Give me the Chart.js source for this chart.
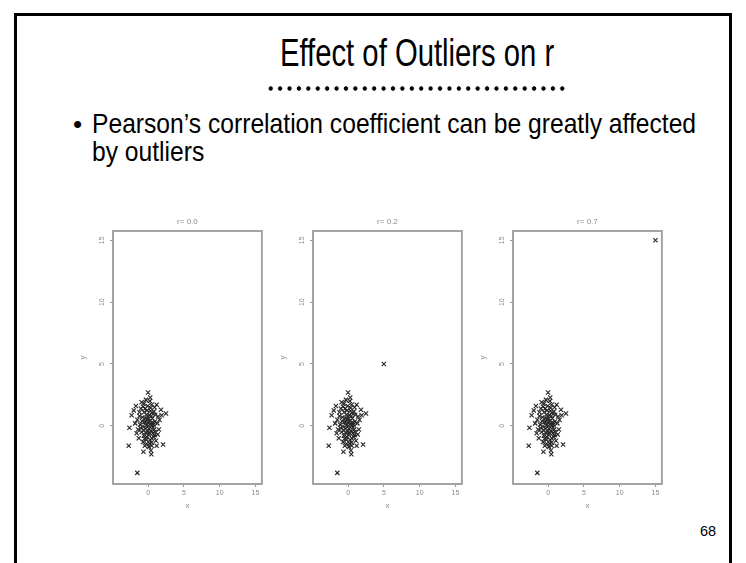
<!DOCTYPE html>
<html>
<head>
<meta charset="utf-8">
<script src="https://cdn.jsdelivr.net/npm/chart.js@4.4.0/dist/chart.umd.min.js"></script>
<style>
  body { margin:0; width:746px; height:563px; background:#fff; position:relative; overflow:hidden;
         font-family:"Liberation Sans",Arial,sans-serif; color:#000; }
  #frame { position:absolute; left:14px; top:13px; width:712px; height:600px; border:3px solid #000; border-bottom:none; }
  #title { position:absolute; left:0; width:834px; top:34px; text-align:center; font-size:38px; line-height:38px; white-space:nowrap; }
  #title span { display:inline-block; transform:scaleX(0.77); transform-origin:center; }
  #dots { position:absolute; left:266px; top:86px; width:301px; height:5px;
          background-image:radial-gradient(circle at center, #000 1.9px, rgba(0,0,0,0) 2.5px);
          background-size:9.42px 5px; background-repeat:repeat-x; }
  #bullet { position:absolute; left:73px; top:110px; font-size:26px; line-height:28px; }
  .txt { position:absolute; left:92px; font-size:28px; line-height:28px; white-space:nowrap;
         transform:scaleX(0.88); transform-origin:left center; }
  #page { position:absolute; left:690px; width:36px; text-align:center; top:524px; font-size:14.5px; line-height:15px; }
  canvas { position:absolute; top:205px; }
</style>
</head>
<body>
<div id="frame"></div>
<div id="title"><span>Effect of Outliers on r</span></div>
<div id="dots"></div>
<div id="bullet">•</div>
<div class="txt" style="top:110px">Pearson’s correlation coefficient can be greatly affected</div>
<div class="txt" style="top:138px">by outliers</div>
<canvas id="plot0" width="192" height="309" style="left:75px"></canvas>
<canvas id="plot1" width="192" height="309" style="left:275px"></canvas>
<canvas id="plot2" width="192" height="309" style="left:475px"></canvas>
<div id="page">68</div>
<script>
// shared cloud of points (same in all three panels)
var clusterX = [0.0, 2.1, -2.7, -1.5, -0.65, 0.4, 0.45, 0.5, 2.5, 1.9, 1.2, -1.7, -2.0, -2.3, -2.6, 1.5,
    1.35, -0.55, 0.5, -0.9, 0.9, -1.2, 0.3, -0.4, 1.0, -1.5, -0.8, 0.6, -0.2, 0.2, -0.5, 1.3, -1.1, 0.0,
    0.7, -0.3, 0.4, -0.9, 1.0, -1.6, 0.1, -0.6, 0.8, -0.2, 0.5, -1.3, 1.1, -0.7, 0.2, -0.4, 0.35, -0.1,
    0.15, -0.75, 0.95, -1.2, 0.55, -0.05, 0.25, -0.35, 0.65, -1.0, 1.6, -0.15, 0.05, -0.55, 0.75, -1.8,
    0.45, -0.25, 0.1, -0.45, 1.2, 0.3, -0.3, 1.8, -1.4, 0.85,
    0.1, -0.3, 0.45, -0.6, 0.2, 0.6, -0.15, 0.35, -0.7, 0.8, -0.05, 0.3, -0.5, 0.9, -0.85, 0.15,
    -0.2, 0.5, 1.4, -1.0];
var clusterY = [2.7, -1.5, -1.6, -3.8, -2.1, -2.0, -2.3, -1.35, 1.0, 0.85, 1.7, 1.6, 1.25, 0.85, -0.15, -0.3,
    -0.7, 1.8, 1.7, 1.9, 1.5, 1.1, 1.2, 1.4, 0.9, 0.5, 0.7, 0.6, 0.9, 0.4, 0.3, 0.2, 0.1, 0.0,
    -0.1, -0.2, -0.4, -0.5, -0.5, -0.6, -0.7, -0.8, -0.9, -1.1, -1.0, -1.0, -1.2, -1.3, -1.4, 0.6, 0.15, 0.55,
    -0.25, -0.05, 0.35, 0.8, 1.05, 1.6, 2.0, -0.55, -0.6, -0.2, 0.5, -0.9, 0.25, 1.1, 0.1, 0.2,
    0.8, 0.05, -1.7, -1.6, -1.6, 2.3, 2.1, 1.3, -0.3, -0.3,
    0.6, 0.35, 0.05, -0.35, -0.55, 0.3, 1.25, 1.45, 1.55, 1.15, -0.45, -1.15, -1.05, -0.75, 0.4, 0.85,
    -1.45, -1.6, 0.75, 1.4];

// the extra point added in each panel
var outlierX = [null, 5, 15];
var outlierY = [null, 5, 15];

var plotTitles = ["r= 0.0", "r= 0.2", "r= 0.7"];
var xTicks = [0, 5, 10, 15];
var yTicks = [0, 5, 10, 15];

var framePlugin = {
    id: 'frame',
    beforeDatasetsDraw: function (chart) {
        var a = chart.chartArea, c = chart.ctx;
        c.save();
        c.strokeStyle = '#a3a3a3';
        c.lineWidth = 2;
        c.strokeRect(a.left, a.top, a.right - a.left, a.bottom - a.top);
        c.restore();
    }
};

var grey = '#8c8c8c';

plotTitles.forEach(function (t, i) {
    var pts = clusterX.map(function (x, k) { return {x: x, y: clusterY[k]}; });
    if (outlierX[i] !== null) {
        pts.push({x: outlierX[i], y: outlierY[i]});
    }

    var ctx = document.getElementById('plot' + i).getContext('2d');
    new Chart(ctx, {
        type: 'scatter',
        data: {
            datasets: [{
                data: pts,
                pointStyle: 'crossRot',
                pointRadius: 3,
                pointBorderColor: '#262626',
                pointBorderWidth: 1.1,
                pointBackgroundColor: 'transparent'
            }]
        },
        options: {
            responsive: false,
            animation: false,
            layout: {padding: {top: 0, right: 4, bottom: 0, left: 0}},
            plugins: {
                legend: {display: false},
                tooltip: {enabled: false},
                title: {
                    display: true, text: t, color: grey, fullSize: false,
                    font: {size: 8, weight: 'normal', family: 'Liberation Sans'},
                    padding: {top: 12, bottom: 4.4}
                }
            },
            scales: {
                x: {
                    type: 'linear', min: -4.9, max: 15.9,
                    afterBuildTicks: function (s) { s.ticks = xTicks.map(function (v) { return {value: v}; }); },
                    afterFit: function (s) { s.height = 30; },
                    grid: {drawOnChartArea: false, tickLength: 3, color: '#999'},
                    border: {display: false},
                    ticks: {color: grey, font: {size: 7, family: 'Liberation Sans'}, padding: 2, maxRotation: 0},
                    title: {display: true, text: 'x', color: grey, font: {size: 8, family: 'Liberation Sans'}, padding: 3.5}
                },
                y: {
                    type: 'linear', min: -4.7, max: 15.75,
                    afterBuildTicks: function (s) { s.ticks = yTicks.map(function (v) { return {value: v}; }); },
                    afterFit: function (s) { s.width = 38; },
                    grid: {drawOnChartArea: false, tickLength: 3, color: '#999'},
                    border: {display: false},
                    ticks: {color: grey, font: {size: 7, family: 'Liberation Sans'}, padding: 4,
                        minRotation: 90, maxRotation: 90, crossAlign: 'center'},
                    title: {display: true, text: 'y', color: grey, font: {size: 8, family: 'Liberation Sans'}, padding: 3}
                }
            }
        },
        plugins: [framePlugin]
    });
});
</script>
</body>
</html>
